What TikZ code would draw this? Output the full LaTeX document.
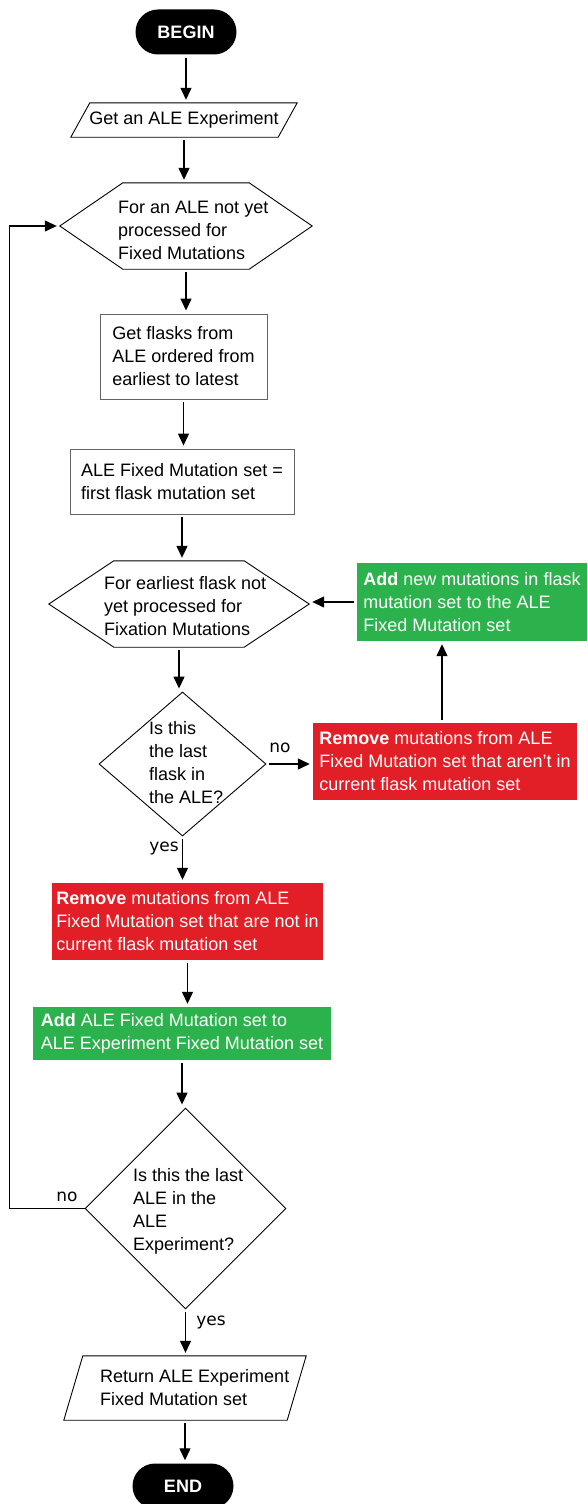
\documentclass[tikz,border=0pt]{standalone}
\usepackage{fontspec}
\setmainfont{Liberation Sans}
\newfontfamily\ynfont{DejaVu Sans}
\usetikzlibrary{shapes.geometric,arrows.meta}
\definecolor{addgreen}{RGB}{44,178,76}
\definecolor{dropred}{RGB}{226,30,38}
\definecolor{boxgray}{RGB}{100,100,100}
\begin{document}
\begin{tikzpicture}[x=1pt,y=-1pt,
		every node/.style={font=\fontsize{18}{23}\selectfont},
		term/.style={rectangle,rounded corners=22.5pt,fill=black,text=white,font=\fontsize{18}{23}\selectfont\bfseries,minimum width=101pt,minimum height=45pt,inner sep=0pt},
		slot/.style={rectangle,inner sep=0pt},
		proc/.style={rectangle,draw=boxgray,line width=0.9pt,align=left,inner sep=0pt},
		addbox/.style={rectangle,fill=addgreen,text=white,align=left,inner sep=0pt},
		dropbox/.style={rectangle,fill=dropred,text=white,align=left,inner sep=0pt},
		decide/.style={diamond,draw=black,line width=0.9pt,inner sep=0pt},
		rim/.style={draw=black,line width=0.9pt},
		flow/.style={-{Triangle[length=12pt,width=11pt]},line width=1.3pt,shorten <=3pt,shorten >=3pt},
		txt/.style={align=left,anchor=west,inner sep=0pt},
		yn/.style={font=\ynfont\fontsize{17}{20}\selectfont,inner sep=0pt}]
	\useasboundingbox (0,0) rectangle (587,1504);
	\node[term] (begin) at (186,32) {BEGIN};
	\node[slot,minimum width=226pt,minimum height=34pt] (exp) at (184,120) {Get an ALE Experiment};
	\node[slot,minimum width=252pt,minimum height=86pt] (hexA) at (186,226) {};
	\node[txt] (hexAtxt) at (118,230) {For an ALE not yet\\processed for\\Fixed Mutations};
	\node[proc,minimum width=167pt,minimum height=85pt] (flasks) at (183.5,356.5) {Get flasks from\\ALE ordered from\\earliest to latest};
	\node[proc,minimum width=224pt,minimum height=65pt] (first) at (182,481.5) {ALE Fixed Mutation set =\\first flask mutation set};
	\node[slot,minimum width=260pt,minimum height=86pt] (hexB) at (179,604) {};
	\node[txt] (hexBtxt) at (104,606) {For earliest flask not\\yet processed for\\Fixation Mutations};
	\node[addbox,minimum width=230pt,minimum height=78pt] (addnew) at (472,602) {\textbf{Add} new mutations in flask\\mutation set to the ALE\\Fixed Mutation set};
	\node[decide,minimum width=167pt,minimum height=144pt] (diaA) at (182.5,764) {};
	\node[txt] (diaAtxt) at (149,763) {Is this\\the last\\flask in\\the ALE?};
	\node[dropbox,minimum width=264pt,minimum height=77pt] (dropA) at (445,761.5) {\textbf{Remove} mutations from ALE\\Fixed Mutation set that aren't in\\current flask mutation set};
	\node[dropbox,minimum width=271pt,minimum height=77pt] (dropB) at (187.5,921.5) {\textbf{Remove} mutations from ALE\\Fixed Mutation set that are not in\\current flask mutation set};
	\node[addbox,minimum width=298pt,minimum height=53pt] (addall) at (182,1033.5) {\textbf{Add} ALE Fixed Mutation set to\\ALE Experiment Fixed Mutation set};
	\node[decide,minimum width=201pt,minimum height=201pt] (diaB) at (185.5,1208.5) {};
	\node[txt] (diaBtxt) at (133,1211) {Is this the last\\ALE in the\\ALE\\Experiment?};
	\node[slot,minimum width=242pt,minimum height=64pt] (ret) at (185,1388) {};
	\node[txt] (rettxt) at (100,1388) {Return ALE Experiment\\Fixed Mutation set};
	\node[term] (finish) at (183,1486) {END};
	\draw[rim] ([xshift=19pt]exp.north west) -- (exp.north east) -- ([xshift=-19pt]exp.south east) -- (exp.south west) -- cycle;
	\draw[rim] (hexA.west) -- ([xshift=63pt]hexA.north west) -- ([xshift=-63pt]hexA.north east) -- (hexA.east) -- ([xshift=-63pt]hexA.south east) -- ([xshift=63pt]hexA.south west) -- cycle;
	\draw[rim] (hexB.west) -- ([xshift=65pt]hexB.north west) -- ([xshift=-65pt]hexB.north east) -- (hexB.east) -- ([xshift=-65pt]hexB.south east) -- ([xshift=65pt]hexB.south west) -- cycle;
	\draw[rim] ([xshift=19pt]ret.north west) -- (ret.north east) -- ([xshift=-19pt]ret.south east) -- (ret.south west) -- cycle;
	\draw[flow] (begin.south) -- (begin.south |- exp.north);
	\draw[flow] (exp.south) -- (exp.south |- hexA.north);
	\draw[flow] (hexA.south) -- (hexA.south |- flasks.north);
	\draw[flow] (flasks.south) -- (flasks.south |- first.north);
	\draw[flow] (first.south) -- (first.south |- hexB.north);
	\draw[flow] (hexB.south) -- (hexB.south |- diaA.north);
	\draw[flow] (diaA.east) -- (diaA.east -| dropA.west);
	\node[yn] (noA) at (280,748) {no};
	\draw[flow] ([xshift=-3pt]dropA.north) -- ([xshift=-3pt]dropA.north |- addnew.south);
	\draw[flow] (addnew.west) -- (addnew.west -| hexB.east);
	\draw[flow] (diaA.south) -- (diaA.south |- dropB.north);
	\node[yn] (yesA) at (164,848) {yes};
	\draw[flow] (dropB.south) -- (dropB.south |- addall.north);
	\draw[flow] (addall.south) -- (addall.south |- diaB.north);
	\coordinate (back) at (9.5,1208.5);
	\draw[flow,shorten <=0pt] (diaB.west) -- (back) |- (hexA.west);
	\node[yn] (noB) at (67,1197) {no};
	\draw[flow] (diaB.south) -- (diaB.south |- ret.north);
	\node[yn] (yesB) at (211,1322) {yes};
	\draw[flow] (ret.south) -- (ret.south |- finish.north);
\end{tikzpicture}
\end{document}
